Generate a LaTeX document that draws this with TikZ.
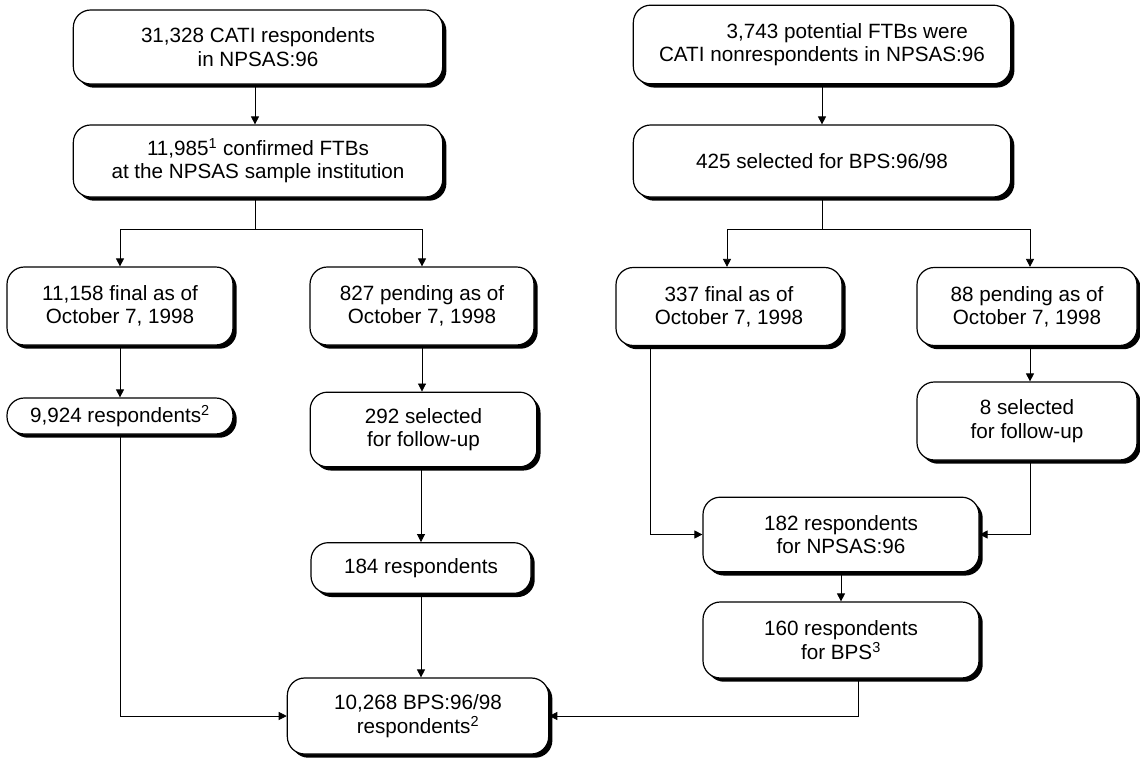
\documentclass[tikz,border=0pt]{standalone}
\usepackage{fontspec}
\setmainfont{Liberation Sans}
\usetikzlibrary{arrows.meta,shadows}
\begin{document}
\begin{tikzpicture}[x=0.75pt,y=-0.75pt,
  box/.style={draw=black, line width=0.9pt, fill=white, rounded corners=13pt,
    align=center, inner sep=0pt, font=\fontsize{15.5}{17.5}\selectfont,
    drop shadow={shadow xshift=2.8pt, shadow yshift=-2.8pt, fill=black, opacity=1}},
  arr/.style={line width=0.6pt, -{Triangle[length=6pt,width=6pt]}},
  ln/.style={line width=0.6pt}]
\useasboundingbox (0,0) rectangle (1140,760);
% left column
\node[box, minimum width=277pt, minimum height=55.5pt] (B1) at (258,47) {31,328 CATI respondents\\in NPSAS:96};
\node[box, minimum width=277pt, minimum height=54pt] (B2) at (258,161) {11,985\textsuperscript{1} confirmed FTBs\\at the NPSAS sample institution};
\node[box, minimum width=169.5pt, minimum height=58.5pt] (B3) at (120,306) {11,158 final as of\\October 7, 1998};
\node[box, minimum width=168pt, minimum height=58.5pt] (B4) at (422,306) {827 pending as of\\October 7, 1998};
\node[box, minimum width=169.5pt, minimum height=27pt] (B5) at (120,416) {9,924 respondents\textsuperscript{2}};
\node[box, minimum width=170pt, minimum height=56pt] (B6) at (423.5,429.5) {292 selected\\for follow-up};
\node[box, minimum width=165pt, minimum height=38pt] (B7) at (421,568) {184 respondents};
\node[box, minimum width=196pt, minimum height=57pt] (B8) at (418,716) {10,268 BPS:96/98\\respondents\textsuperscript{2}};
% right column
\node[box, minimum width=283pt, minimum height=59pt] (R1) at (822,44.5) {\hspace*{38pt}3,743 potential FTBs were\\CATI nonrespondents in NPSAS:96};
\node[box, minimum width=283pt, minimum height=54pt] (R2) at (822,161) {425 selected for BPS:96/98};
\node[box, minimum width=169.5pt, minimum height=58.5pt] (R3) at (729,306.5) {337 final as of\\October 7, 1998};
\node[box, minimum width=165pt, minimum height=58.5pt] (R4) at (1027,306.5) {88 pending as of\\October 7, 1998};
\node[box, minimum width=165pt, minimum height=58.5pt] (R5) at (1027,421) {8 selected\\for follow-up};
\node[box, minimum width=207pt, minimum height=56pt] (R6) at (841,534.5) {182 respondents\\for NPSAS:96};
\node[box, minimum width=207pt, minimum height=57pt] (R7) at (841,640) {160 respondents\\for BPS\textsuperscript{3}};
% reference coordinates
\coordinate (s1) at (255,229);
\coordinate (s2) at (822,229);
\coordinate (xr3) at (727,0);
\coordinate (xr4) at (1030,0);
\coordinate (xr6) at (650,0);
\coordinate (xr8) at (858,0);
\coordinate (xb6) at (421,0);
% connectors left
\draw[arr] (B1.south -| s1) -- (B2.north -| s1);
\draw[ln] (B2.south -| s1) -- (s1);
\draw[arr] (s1) -| (B3.north);
\draw[arr] (s1) -| (B4.north);
\draw[arr] (B3.south) -- (B5.north);
\draw[arr] (B4.south) -- (B6.north -| B4.south);
\draw[arr] (B6.south -| xb6) -- (B7.north -| xb6);
\draw[arr] (B7.south -| xb6) -- (B8.north -| xb6);
\draw[arr] (B5.south) |- (B8.west);
% connectors right
\draw[arr] (R1.south) -- (R2.north);
\draw[ln] (R2.south) -- (s2);
\draw[arr] (s2) -| (R3.north -| xr3);
\draw[arr] (s2) -| (R4.north -| xr4);
\draw[arr] (R4.south -| xr4) -- (R5.north -| xr4);
\draw[arr] (R3.south -| xr6) |- (R6.west);
\draw[arr] (R5.south -| xr4) |- (R6.east);
\draw[arr] (R6.south) -- (R7.north);
\draw[arr] (R7.south -| xr8) |- (B8.east);
\end{tikzpicture}
\end{document}
